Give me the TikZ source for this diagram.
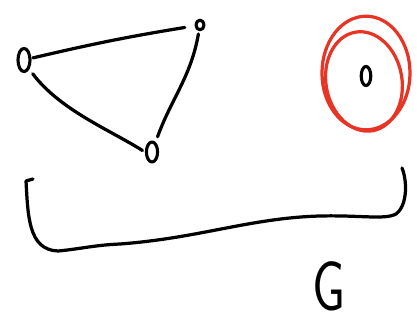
\documentclass[tikz,border=0pt]{standalone}
\usetikzlibrary{shapes.geometric}
\definecolor{sketchred}{RGB}{232,52,36}

\begin{document}
\begin{tikzpicture}[x=0.025cm,y=-0.025cm,line width=2.3pt,line cap=round,line join=round,
  vertex/.style={draw,ellipse,inner sep=0pt,line width=2.2pt}]
\useasboundingbox (0,0) rectangle (417,323);
\node[vertex,minimum width=0.3cm,minimum height=0.58cm] (a) at (24,60) {};
\node[vertex,minimum width=0.2cm,minimum height=0.24cm] (b) at (200,25) {};
\node[vertex,minimum width=0.28cm,minimum height=0.5cm] (c) at (152,152) {};
\node[vertex,minimum width=0.24cm,minimum height=0.48cm] (d) at (366,76) {};
\draw[shorten <=1pt,shorten >=7pt] (a) to[bend left=2] (b);
\draw[shorten <=2pt,shorten >=4pt] (b) to[out=-100,in=70] (c);
\draw[shorten <=4pt,shorten >=2pt] (a.-60) .. controls (60,110) and (110,130) .. (c.west);
% red loops round the lone vertex
\draw[sketchred] (d) ++(0,-3) ellipse[x radius=1.1cm,y radius=1.42cm];
\draw[sketchred,rotate around={10:(d)}] (d) ++(-3,5) ellipse[x radius=0.95cm,y radius=1.25cm];
% brace under the graph
\draw (33,179) -- (26,181) .. controls (28,215) and (28,250) .. (58,251)
  .. controls (80,249) and (95,245) .. (120,244)
  .. controls (200,238) and (250,218) .. (320,216)
  .. controls (360,215) and (385,220) .. (396,214)
  .. controls (408,205) and (407,180) .. (402,168);
\node[font=\fontsize{50}{50}\sffamily,xscale=0.75,inner sep=0pt,anchor=base] (g) at (329,310) {G};
\end{tikzpicture}
\end{document}
